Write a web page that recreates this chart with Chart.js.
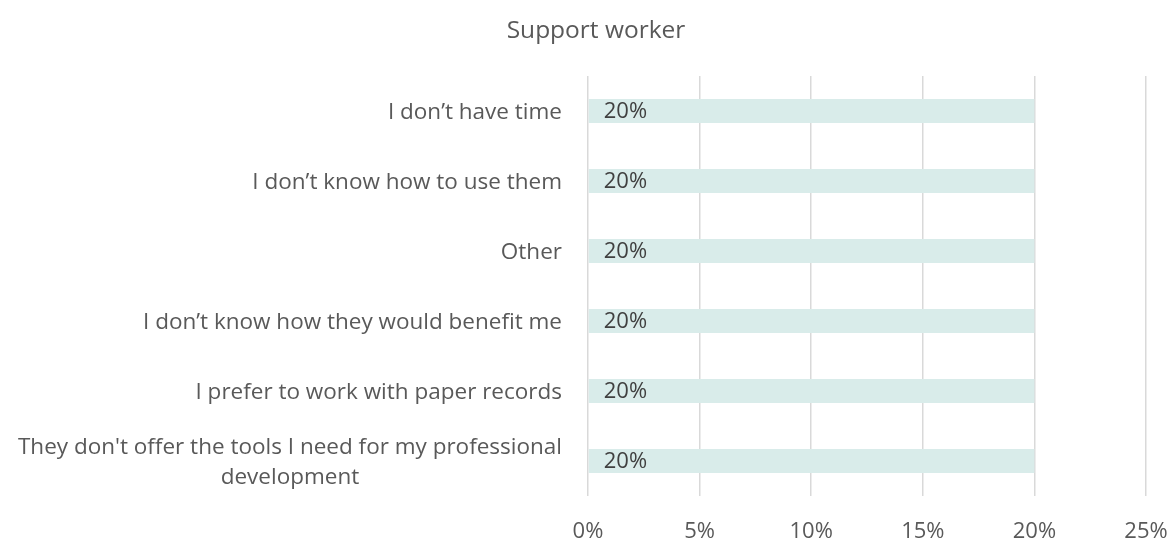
<!DOCTYPE html>
<html>
<head>
<meta charset="utf-8">
<script src="https://cdn.jsdelivr.net/npm/chart.js@4/dist/chart.umd.min.js"></script>
<style>
  html, body { margin: 0; padding: 0; background: #fff; }
  #wrap { width: 1171px; height: 541px; }
</style>
</head>
<body>
<div id="wrap"><canvas id="c" width="1171" height="541"></canvas></div>
<script>
// ── Dados ─────────────────────────────────────────────
const chartTitle = 'Support worker';
const reasons = [
  ['I don’t have time'],
  ['I don’t know how to use them'],
  ['Other'],
  ['I don’t know how they would benefit me'],
  ['I prefer to work with paper records'],
  ["They don't offer the tools I need for my professional", 'development'],
];
const shares = [20, 20, 20, 20, 20, 20];
const xTicks = [0, 5, 10, 15, 20, 25];

// ── Estilo ────────────────────────────────────────────
const FONT = "'Open Sans', 'Noto Sans', sans-serif";
const TEXT = '#595959';
const LABEL = '#404040';
const GRID = '#d9d9d9';
const BAR = '#d9ecea';

// título desenhado à mão (centro levemente à direita do canvas)
const titlePlugin = {
  id: 'plainTitle',
  afterDraw(chart) {
    const { ctx } = chart;
    ctx.save();
    ctx.font = `24.5px ${FONT}`;
    ctx.fillStyle = TEXT;
    ctx.textAlign = 'center';
    ctx.textBaseline = 'middle';
    ctx.fillText(chartTitle, 596, 31);
    ctx.restore();
  },
};

// rótulos do eixo y: linhas centradas entre si, bloco alinhado à direita
const yLabelsPlugin = {
  id: 'yLabels',
  afterDraw(chart) {
    const { ctx, scales } = chart;
    const right = scales.y.right - 26;
    ctx.save();
    ctx.font = `22.5px ${FONT}`;
    ctx.fillStyle = TEXT;
    ctx.textAlign = 'center';
    ctx.textBaseline = 'middle';
    const lh = 30;
    reasons.forEach((lines, i) => {
      const y = scales.y.getPixelForTick(i) + 2;
      const w = Math.max(...lines.map((l) => ctx.measureText(l).width));
      const cx = right - w / 2;
      const y0 = y - ((lines.length - 1) * lh) / 2;
      lines.forEach((l, k) => ctx.fillText(l, cx, y0 + k * lh));
    });
    ctx.restore();
  },
};

// valor dentro da barra, encostado no início
const valueLabelsPlugin = {
  id: 'valueLabels',
  afterDatasetsDraw(chart) {
    const { ctx } = chart;
    const meta = chart.getDatasetMeta(0);
    ctx.save();
    ctx.font = `22px ${FONT}`;
    ctx.fillStyle = LABEL;
    ctx.textAlign = 'left';
    ctx.textBaseline = 'middle';
    meta.data.forEach((bar, i) => {
      ctx.fillText(`${shares[i]}%`, bar.base + 15, bar.y + 1);
    });
    ctx.restore();
  },
};

new Chart(document.getElementById('c'), {
  type: 'bar',
  data: {
    labels: reasons.map((r) => r.join(' ')),
    datasets: [
      {
        data: shares,
        backgroundColor: BAR,
        borderWidth: 0,
        barPercentage: 0.343,
        categoryPercentage: 1,
      },
    ],
  },
  options: {
    indexAxis: 'y',
    responsive: false,
    animation: false,
    layout: { padding: { left: 0, right: 25, top: 76, bottom: 0 } },
    plugins: {
      legend: { display: false },
      tooltip: { enabled: false },
      title: { display: false },
    },
    scales: {
      x: {
        min: 0,
        max: 25,
        afterBuildTicks: (scale) => {
          scale.ticks = xTicks.map((v) => ({ value: v }));
        },
        afterFit: (scale) => {
          scale.height = 45;
          scale.paddingLeft = 0;
          scale.paddingRight = 0;
        },
        grid: { color: GRID, lineWidth: 1.5, drawTicks: false },
        border: { display: false },
        ticks: {
          color: TEXT,
          padding: 23,
          font: { family: FONT, size: 22 },
          callback: (v) => `${v}%`,
        },
      },
      y: {
        afterFit: (scale) => {
          scale.width = 588;
        },
        grid: { display: false },
        border: { display: false },
        ticks: { display: false },
      },
    },
  },
  plugins: [titlePlugin, yLabelsPlugin, valueLabelsPlugin],
});
</script>
</body>
</html>
